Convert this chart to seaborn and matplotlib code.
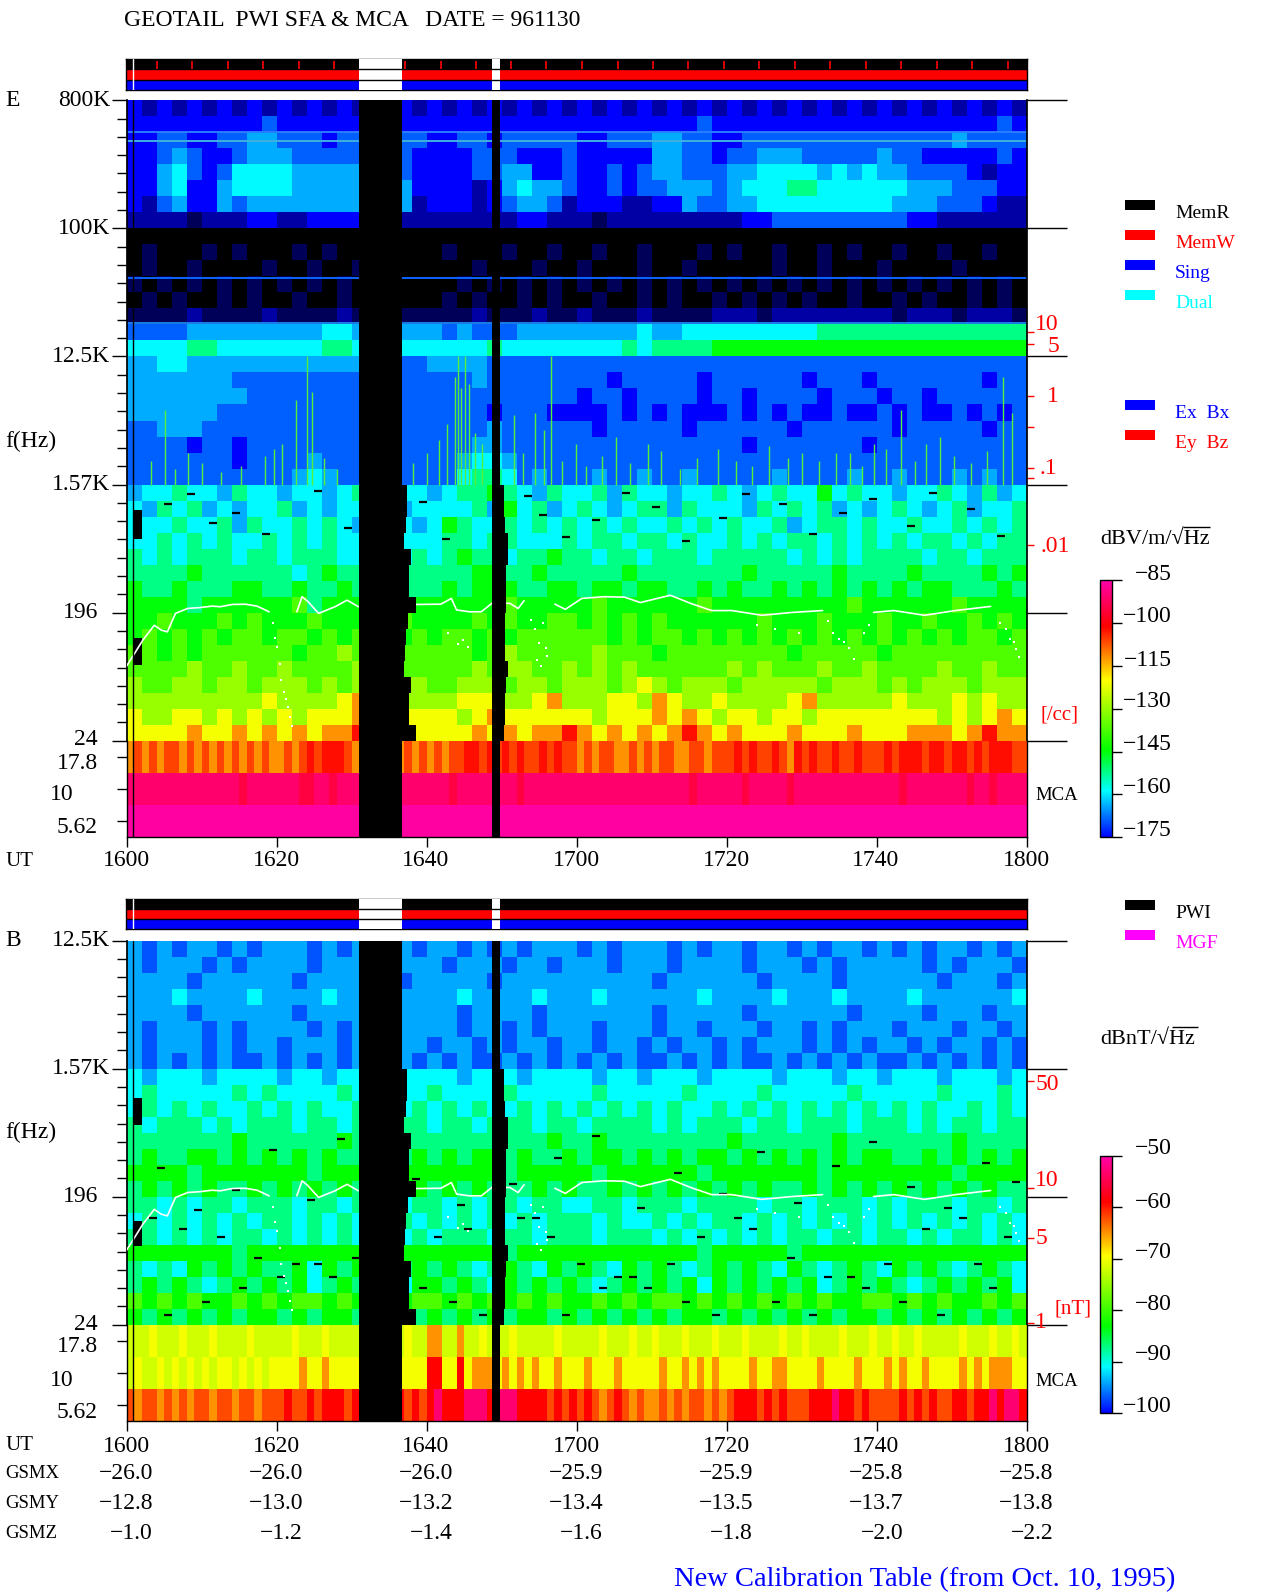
import numpy as np
import seaborn as sns
import matplotlib
matplotlib.use("Agg")
import matplotlib.pyplot as plt
from matplotlib.cm import ScalarMappable
from matplotlib.colors import LinearSegmentedColormap, Normalize

W, H = 1280, 1593

# level codes used in the spectrogram rows, as dB for each panel
E_LEVELS = {"0": -195, "1": -188, "2": -182, "3": -175, "4": -169, "5": -164, "6": -159, "7": -152, "8": -145,
            "9": -137, "a": -130, "g": -124, "b": -121, "c": -112, "h": -106, "d": -102, "j": -95, "e": -91, "f": -86}
B_LEVELS = {"0": -111, "1": -107, "2": -104, "3": -100, "4": -97, "5": -94, "6": -91, "7": -87, "8": -83,
            "9": -79, "a": -75, "g": -72, "b": -70, "c": -65, "h": -62, "d": -59, "j": -56, "e": -53, "f": -51}

E_ROWS = [
    "3232323232 3232323232 3232323232 3232323232 3232323232 3232323232",
    "3333333334 3333334433 3333333333 3333333343 3333333333 3333333343",
    "3344334455 4443444444 3344344444 3344455443 3444444444 4444454444",
    "3345433455 5444444443 3334443334 3333355443 4455544444 5443333343",
    "3356434666 6555555543 3334455334 3343455444 5566665656 5544443233",
    "3356335666 6555555553 3332356554 3343445554 5666776666 6655544433",
    "3245335455 5555555552 3332345542 3332233544 5566666666 6555444322",
    "2222122233 2233332222 2222223322 2122222222 2334444444 4433222222",
    "0000000000 0000000000 0000000000 0000000000 0000000000 0000000000",
    "0100010100 0101000000 0100010010 0100100010 1001001010 0100100100",
    "0100100001 0010010000 0001000100 1000100100 0001001000 1000010000",
    "1010101010 1010101000 0010101010 1010101010 1010101010 1010101010",
    "0101001010 0100101000 0101001010 0100101001 0101010010 0101001010",
    "1111211112 1111211111 1112111211 2111211112 2212222222 2122212221",
    "4444555555 5556655555 5454445555 5555655666 6666667777 7777777777",
    "6666776666 6667766666 6666766666 6667677778 8888888888 8888888888",
    "5566555555 5555555544 5555444444 4444444444 4444444444 4444444444",
    "5555555444 4444444444 4445444444 4434444434 4444434443 4444444344",
    "5555555544 4444444444 4444444444 3443444434 4344443444 3443444444",
    "5555554444 4444444444 4444344433 3343434333 4343433433 4343343434",
    "4455544444 4444444344 4444544444 4344444344 4444344444 4344444344",
    "4444344344 4444444344 4445544444 4444444444 4344444443 4444444444",
    "4444444344 4454444444 4456654444 4444444444 4444444444 4444444444",
    "4444444444 4565444444 4467764544 4544544544 4445444454 4544454544",
    "5667665766 5665676566 5677876576 6757665667 6567668676 6566765756",
    "6576756566 7565665756 6667586756 7656775766 6576767565 6765675667",
    "6667667576 6767657665 6876676767 6767667676 7667567767 6676676767",
    "6676767667 6767667666 6776776667 6776776766 7676776767 6767767677",
    "7676777677 6777667767 6787767787 7677677767 7777676767 7776776777",
    "7777877777 7678777777 7778877877 7778777777 7877777877 7787777878",
    "8778777887 7877878777 7878887788 7887887787 8778787878 7878877787",
    "8888788888 8978888888 8888898888 8988888898 8888888898 8888898888",
    "8898889898 8898889898 8889898899 8989898888 8898889888 9889889898",
    "8989898998 9989898989 8998989999 9989899898 9898989898 9898989989",
    "9989899999 9899a99999 99989a9999 9a99989999 9999899999 8999999999",
    "9999a99a99 a9999a9a99 999a9aa99a 9a9a999999 a9a999a99a 9999a99a99",
    "a99aa9aa9a aa9a9a9aaa 99aaa9aa9a aa9aba9aaa 9aaaaa9aaa 9a9aaa9aaa",
    "aaaaaaaaab aaaabcaaaa aabbbaabca aabbacbaab aaaabcaaaa abaaababaa",
    "baabbababa babbbcbabb bbabcbbbbb babbbcbcba bbabbabbbb bbbbababcb",
    "bbbbcbbcbc bcbccdcbbb bbbcbcbccd cbcbcbcdcb cbbbcbbbcb bbcccbcdcc",
]
B_ROWS = [
    "5454554545 5545455454 5545454555 4545554545 5455454554 5454554545",
    "5455545455 5545555455 5455545545 5545554555 5455545455 5554545554",
    "5555455555 5455555545 5555455555 5555545555 5545555455 5555455545",
    "5556555565 5556555655 5565555655 5655555565 5556555655 5565555556",
    "5555455555 5455555455 5545555455 5555545555 5455555545 5554555455",
    "5455545455 5545455455 5545545455 5455545545 5545545455 5455545545",
    "5455545455 4555454555 4554545545 5455454554 5455545454 5545455454",
    "5454545445 4545454454 5454454545 4545445454 5445454545 4454545454",
    "6566656666 5665666566 6656665666 6566566656 6665666566 5666566656",
    "6766666767 6666766666 7666676666 6766666766 6676666676 6666766676",
    "6767676676 7676676767 6767667676 7676767667 6767676767 6767667676",
    "7677767677 7677676777 6776777677 6777767677 7677677767 7767677677",
    "7777777877 7777877777 7777777787 7877777777 8777777877 7777787777",
    "7877887878 7878778778 7878878778 7887878788 7878787878 8778787878",
    "8888788888 8878888888 8888878888 8788888878 8888887888 8888878888",
    "7878787787 8787877878 7878777878 7787878787 8787787878 7878787877",
    "7767677677 7677677767 7676776776 6776777677 7767767776 7677767767",
    "6767676767 7676767676 7676767677 7676676767 7676767676 7676767676",
    "7767676776 7676767767 6777677677 7677767676 7676776776 7767677676",
    "8888888788 8888887888 8888878888 8888888878 8888788888 8888888888",
    "7676878787 7868786878 7876787687 8768787678 7876876787 6878767876",
    "7878767878 7867878768 8787687878 7678787868 7878786787 8767878786",
    "9898988989 8998989889 9898989898 8989899898 9898989889 9898988989",
    "8787878788 7878878787 8787878878 7878787887 8787878788 7878787878",
]
# MCA bands: 17.8, 10, 5.62 Hz, one code per minute
E_MCA = [
    "chchchhchc hchchchchc chchdhdddh chchchchch chchhddhdh dhdhhdhdhh chchhcchch chhcchhchh hdhdhhdhcd hdhhdhhdhh hdhdddhddh ddhdhdddhh",
    "eeeeeeeeee eeeeejeeee eeejjeejee eeeeeeeeee eeejeeeeee eejeeeeeee eeeeeeeeee eeeeejeeee eejeeeeeje eeeeeeeeee eeejeeeeee eejeejeeee",
    "ffffffffff ffffffffff ffffffffff ffffffffff ffffffffff ffffffffff ffffffffff ffffffffff ffffffffff ffffffffff ffffffffff ffffffffff",
]
B_MCA = [
    "gggbgggbgg gbggggbggg ggbgggbggg gbgggggbgg ccggcggbgg gbgggggbgg gggbgggbgg bgggbgggbg ggbggggbgg bggggbgggb ggbggbgggg gbgggbggbg",
    "gbggbgbgbg bgbbgbgbgb bbbcbbcbbb bbcbbcbbbb ddbbdbcccb cbcbcbbcbb bcbbbcbbbb bcbbcbcbcb bbbcbbccbb bbcbbbbcbb bcbcbbcbbb bcbcbcccbb",
    "hchhchchch hchhchhchh hdhhdhdddh ddhhdhdhdh dedddeeede eeddddhdhd hdhchdhchc chchchhchc hdddhdhdhh hdddeddhdh hhhdhdhdhh ddhddedeed",
]

# data gaps in minutes after 1600, and the lagging right edge over the SFA rows below 1.57 kHz
GAP_START = [31.0, 48.7]
GAP_END = [36.7, 49.8]
GAP1_EDGE = [37.43, 37.43, 37.27, 37.0, 37.98, 37.7, 37.7, 38.6, 37.54, 37.27, 37.1, 37.0, 37.98, 37.7, 37.65, 38.6]
GAP2_EDGE = [50.33, 50.33, 50.5, 50.87, 50.87, 50.6, 50.6, 50.6, 50.5, 50.45, 50.4, 50.87, 50.6, 50.5, 50.4, 50.33]
BLOCK_T = [0.9, 2.0]
E_BLOCK_ROWS = [(25.6, 27.4), (33.6, 35.3)]
B_BLOCK_ROWS = [(9.8, 11.5), (17.5, 19.1)]
THIN_LINE_T = 0.9

# white trace in both panels, solid stretches
TRACE_T = [0.0, 1.08, 2.17, 3.69, 4.62, 5.43, 6.52, 8.15, 9.79, 11.4, 12.5, 14.1, 15.8, 17.4, 19.0, np.nan,
           22.7, 23.4, 24.2, 25.6, 27.8, 29.4, 30.9, np.nan, 37.0, 38.6, 41.9, 43.3, 44.0,
           45.7, 47.3, 48.7, np.nan, 49.9, 51.1, 52.2, 53.0, np.nan, 57.1, 58.5, 60.7, 63.7, 66.4, 68.5,
           72.5, 75.2, 78.0, 80.7, 84.7, 88.8, 92.8, np.nan, 99.6, 102.3, 106.4, 110.5, 115.2]
TRACE_HZ = [82, 101, 125, 159, 147, 143, 193, 209, 212, 217, 215, 223, 224, 217, 198, np.nan,
            198, 253, 233, 193, 215, 239, 215, np.nan, 215, 223, 224, 246, 204,
            198, 198, 227, np.nan, 227, 227, 209, 237, np.nan, 224, 206, 246, 253, 251, 230,
            259, 227, 202, 202, 187, 196, 202, np.nan, 196, 202, 187, 202, 216]
# dotted stretches where the trace breaks up
DOT_T = [19.5, 19.8, 20.1, 20.4, 20.6, 21.0, 21.2, 21.5, 21.8, 22.1, 53.9, 54.4, 55.0, 55.5, 55.9, 54.7, 55.3, 56.1,
         93.5, 94.2, 95.0, 95.6, 96.3, 97.0, 98.3, 99.0, 116.4, 117.2, 117.8, 118.3, 118.6, 119.0,
         42.8, 44.2, 44.9, 45.5, 84.0, 86.5, 89.7]
DOT_HZ = [164, 130, 112, 85, 65, 54, 48, 42, 36, 31, 172, 150, 120, 164, 110, 90, 82, 96,
          170, 140, 128, 122, 110, 92, 141, 160, 165, 150, 128, 122, 108, 95,
          140, 118, 125, 112, 160, 150, 140]

# whistler-like spikes rising from 1.57 kHz in panel E
SPIKE_T = [5.16, 8.15, 20.7, 22.6, 24.0, 24.75, 43.8, 44.2, 44.6, 45.1, 45.7, 46.5, 51.7, 54.4, 56.6, 59.9, 65.3,
           69.5, 76.1, 78.9, 90, 94.6, 99.6, 103.3, 106.6, 116.9, 118,
           3.2, 6.4, 10.1, 12.6, 15.2, 18.4, 19.6, 26.3, 28.1, 38.2, 40.1, 41.6, 42.7, 47.4, 52.9, 55.6, 58.1, 61.2,
           63.4, 67.1, 71.2, 73.8, 81.2, 83.4, 85.7, 88.2, 92.3, 96.4, 98.1, 101.2, 105.1, 108.4, 110.3, 112.6, 114.7]
SPIKE_TOP = [5200, 2600, 3000, 6200, 12500, 7000, 9000, 12500, 7500, 12500, 8000, 3600, 4800, 5000, 12500, 3000, 3400,
             3000, 2400, 2800, 2600, 2600, 3000, 5200, 3000, 9000, 5000,
             2300, 2000, 2200, 1900, 2100, 2500, 2800, 2400, 2000, 2200, 2600, 3200, 4200, 3000, 2600, 3800, 2300, 2100,
             2500, 2200, 2700, 2000, 2300, 2100, 2900, 2400, 2300, 2600, 2100, 2800, 2300, 3400, 2500, 2200, 2700]

# narrow band lines in panel E (Hz)
E_LINES_HZ = [480000, 415000, 44700, 21600]
E_LINE_COLORS = ["#2b7dff", "#3fb0e0", "#0a66ff", "#1c7fe8"]

# dropouts seen as short black dashes
E_DASH_T = [5, 8, 11, 14, 18, 25, 29, 39, 42, 53, 55, 58, 62, 66, 70, 74, 79, 82, 87, 91, 95, 99, 104, 107, 112, 116]
E_DASH_ROW = [25.2, 24.6, 26.4, 25.8, 27.1, 24.4, 26.7, 25.1, 27.4, 24.7, 25.9, 27.3, 26.2, 24.5, 25.4, 27.5, 26.1,
              24.6, 25.2, 27.1, 25.8, 24.9, 26.6, 24.5, 25.5, 27.2]
B_DASH_T = [3, 7, 12, 17, 22, 27, 39, 43, 47, 52, 56, 60, 65, 69, 74, 78, 83, 88, 93, 98, 103, 108, 113, 117,
            5, 10, 15, 20, 25, 30, 41, 45, 54, 58, 63, 67, 72, 76, 81, 86, 91, 96, 101, 106, 111, 115,
            4, 9, 14, 19, 24, 28, 38, 44, 51, 57, 62, 68, 73, 79, 84, 89, 94, 99, 104, 109, 114, 118]
B_DASH_ROW = [17.3, 18.0, 18.5, 19.8, 20.2, 21.0, 21.7, 22.6, 23.4, 17.3, 18.5, 20.2, 21.0, 21.7, 22.6, 23.4, 18.0,
              19.8, 21.0, 21.7, 22.6, 23.4, 20.2, 18.5,
              23.4, 22.6, 21.7, 21.0, 20.2, 19.8, 18.5, 18.0, 17.3, 23.4, 21.7, 21.0, 20.2, 18.5, 17.3, 22.6, 23.4,
              21.0, 20.2, 18.0, 17.3, 21.7,
              14.2, 16.8, 15.6, 13.1, 16.2, 12.4, 14.9, 16.5, 15.2, 13.6, 12.2, 16.7, 14.5, 15.8, 13.2, 16.4, 14.1,
              12.6, 15.4, 16.7, 13.9, 15.1]

STATUS_TICKS = [4.1, 8.8, 13.5, 18.2, 23.0, 27.7, 37.1, 41.9, 46.6, 51.3, 56.0, 60.8, 65.5, 70.2, 74.9, 79.7,
                84.4, 89.1, 93.8, 98.6, 103.3, 108.0, 112.7, 117.5]
STATUS_COLORS = ["black", "red", "blue"]

UT_TICKS = [0, 20, 40, 60, 80, 100, 120]
UT_LABELS = ["1600", "1620", "1640", "1700", "1720", "1740", "1800"]
GSMX = ["−26.0", "−26.0", "−26.0", "−25.9", "−25.9", "−25.8", "−25.8"]
GSMY = ["−12.8", "−13.0", "−13.2", "−13.4", "−13.5", "−13.7", "−13.8"]
GSMZ = ["−1.0", "−1.2", "−1.4", "−1.6", "−1.8", "−2.0", "−2.2"]

E_FREQ_LABELS = ["800K", "100K", "12.5K", "1.57K", "196", "24"]
B_FREQ_LABELS = ["12.5K", "1.57K", "196", "24"]
MCA_LABELS = ["17.8", "10", "5.62"]

E_CBAR_TICKS = [-85, -100, -115, -130, -145, -160, -175]
B_CBAR_TICKS = [-50, -60, -70, -80, -90, -100]

# density and field scales on the right, in spectrogram rows
E_RED_ROWS = [14.5, 15.23, 18.48, 20.42, 22.98, 23.6, 27.8]
B_RED_ROWS = [8.77, 15.45, 18.58, 23.9]

CMAP_STOPS = [(-195, "#000000"), (-175, "#0000ff"), (-158.7, "#00ffff"), (-144.6, "#00ff00"), (-120, "#ffff00"),
              (-101, "#ff0000"), (-85, "#ff00aa")]

sns.set_theme(style="white")
plt.rcParams["font.family"] = ["Liberation Serif", "DejaVu Serif"]

cmap = LinearSegmentedColormap.from_list("geotail", [((v + 195) / 110, c) for v, c in CMAP_STOPS], N=512)
fig = plt.figure(figsize=(W / 100, H / 100), dpi=100, facecolor="white")


def px_axes(x0, y0, x1, y1):
    return fig.add_axes([x0 / W, 1 - y1 / H, (x1 - x0) / W, (y1 - y0) / H])


def put(x, y, s, color="black", ha="left", size=17):
    fig.text(x / W, 1 - (y + 2) / H, s, color=color, ha=ha, va="center", fontsize=size)


def decode(rows, levels):
    return np.array([[levels[c] for c in row.replace(" ", "")] for row in rows], dtype=float)


def hz_to_row(hz, top_hz):
    return 8 * np.log(top_hz / np.asarray(hz, dtype=float)) / np.log(8)


def show_spines(ax):
    for side in ["left", "right", "top", "bottom"]:
        ax.spines[side].set_visible(True)
        ax.spines[side].set_color("black")
        ax.spines[side].set_linewidth(1)


def draw_status(y0, y1, ticks):
    ax = px_axes(125.5, y0, 1026.6, y1)
    for i, color in enumerate(STATUS_COLORS):
        ax.barh(i + 0.5, 120.1, left=-0.1, height=1, color=color, linewidth=0)
    for start, end in zip(GAP_START, GAP_END):
        ax.axvspan(start, end, color="white", lw=0, zorder=3)
    ax.hlines([1, 2], -0.1, 120, color="black", lw=1, zorder=4)
    ax.vlines(ticks, 0.15, 0.95, color="red", lw=1.2, zorder=4)
    ax.axvline(THIN_LINE_T, color="white", lw=1, zorder=5)
    ax.set_xlim(-0.1, 120)
    ax.set_ylim(3, 0)
    ax.set_xticks([])
    ax.set_yticks([])
    show_spines(ax)


def draw_sfa(y0, y1, rows, levels, top_hz, vmin, vmax, gap_first_row, block_rows, dash_t, dash_row):
    ax = px_axes(126.6, y0, 1026.6, y1)
    data = decode(rows, levels)
    sns.heatmap(data, ax=ax, cmap=cmap, vmin=vmin, vmax=vmax, cbar=False, xticklabels=False, yticklabels=False)
    n_rows = data.shape[0]

    ax.hlines(dash_row, np.array(dash_t) / 2, np.array(dash_t) / 2 + 0.55, color="black", lw=1.6, zorder=3)
    ax.plot(np.array(TRACE_T) / 2, hz_to_row(TRACE_HZ, top_hz), color="white", lw=1.2, zorder=4)
    ax.scatter(np.array(DOT_T) / 2, hz_to_row(DOT_HZ, top_hz), s=3, color="white", marker="s", lw=0, zorder=4)

    # gaps with the lagging edge
    for start, end, edge in zip(GAP_START, GAP_END, [GAP1_EDGE, GAP2_EDGE]):
        ax.axvspan(start / 2, end / 2, color="black", lw=0, zorder=5)
        sweep_rows = np.arange(gap_first_row, gap_first_row + len(edge)) + 0.5
        ax.barh(sweep_rows, (np.array(edge) - start) / 2, left=start / 2, height=1, color="black", lw=0, zorder=5)
    for r0, r1 in block_rows:
        ax.fill_between([BLOCK_T[0] / 2, BLOCK_T[1] / 2], r0, r1, color="black", lw=0, zorder=3)
    ax.axvline(THIN_LINE_T / 2, color="black", lw=1, zorder=5)

    major = np.arange(0, n_rows + 1, 8)
    minor = [m + 8 * k / 7 for m in major[:-1] for k in range(1, 7)]
    ax.set_yticks(major)
    ax.set_yticks(minor, minor=True)
    ax.set_yticklabels([])
    ax.tick_params(axis="y", which="major", left=True, length=11, width=1, color="black")
    ax.tick_params(axis="y", which="minor", left=True, length=7, width=1, color="black")
    ax.hlines(major, 1.0, 1.0445, transform=ax.get_yaxis_transform(), color="black", lw=1, clip_on=False)
    ax.set_xticks([])
    ax.spines["left"].set_visible(True)
    ax.spines["left"].set_color("black")
    ax.spines["right"].set_visible(True)
    ax.spines["right"].set_color("black")
    return ax


def draw_mca(y0, y1, rows, levels, vmin, vmax):
    ax = px_axes(126.6, y0, 1026.6, y1)
    data = decode(rows, levels)
    sns.heatmap(data, ax=ax, cmap=cmap, vmin=vmin, vmax=vmax, cbar=False, xticklabels=False, yticklabels=False)
    for start, end in zip(GAP_START, GAP_END):
        ax.axvspan(start, end, color="black", lw=0, zorder=5)
    ax.axvline(THIN_LINE_T, color="black", lw=1, zorder=5)
    ax.set_xticks(UT_TICKS)
    ax.set_xticklabels([])
    ax.set_yticks([0.5, 1.5, 2.5])
    ax.set_yticklabels([])
    ax.tick_params(axis="x", bottom=True, length=7, width=1, color="black")
    ax.tick_params(axis="y", left=True, length=7, width=1, color="black")
    show_spines(ax)
    ax.spines["top"].set_visible(False)
    return ax


def draw_cbar(y0, y1, vmin, vmax, low, high, ticks):
    cax = px_axes(1100.3, y0, 1111.7, y1)
    sm = ScalarMappable(norm=Normalize(vmin, vmax), cmap=cmap)
    cb = fig.colorbar(sm, cax=cax)
    cb.set_ticks(ticks)
    cb.ax.set_ylim(low, high)
    cb.ax.tick_params(axis="y", right=True, length=7, width=1, color="black", labelright=False)
    cb.outline.set_edgecolor("black")
    cb.outline.set_linewidth(1)


# panel E
draw_status(59.3, 89.7, STATUS_TICKS)
ax_e = draw_sfa(100.3, 740.7, E_ROWS, E_LEVELS, 800000, -195, -85, 24, E_BLOCK_ROWS, E_DASH_T, E_DASH_ROW)
ax_e.hlines(hz_to_row(E_LINES_HZ, 800000), 0, 60, colors=E_LINE_COLORS, lw=1.4, zorder=2)
spike_x = np.array(SPIKE_T) / 2
ax_e.vlines(spike_x, hz_to_row(SPIKE_TOP, 800000), 24, color="#55f03c", lw=1.0, zorder=2)
ax_e.hlines(E_RED_ROWS, 1.0, 1.008, transform=ax_e.get_yaxis_transform(), color="red", lw=1, clip_on=False)
draw_mca(740.7, 837.3, E_MCA, E_LEVELS, -195, -85)
draw_cbar(580.3, 837.3, -195, -85, -175, -85, E_CBAR_TICKS)

# panel B
draw_status(899.3, 929.3, [])
ax_b = draw_sfa(940.7, 1324.7, B_ROWS, B_LEVELS, 12500, -111.1, -50, 8, B_BLOCK_ROWS, B_DASH_T, B_DASH_ROW)
ax_b.hlines(B_RED_ROWS, 1.0, 1.008, transform=ax_b.get_yaxis_transform(), color="red", lw=1, clip_on=False)
draw_mca(1324.7, 1421, B_MCA, B_LEVELS, -111.1, -50)
draw_cbar(1155.8, 1413.3, -111.1, -50, -100, -50, B_CBAR_TICKS)

# title and frequency labels
put(124.5, 19, "GEOTAIL  PWI SFA & MCA   DATE = 961130", size=17)
put(5, 98, "E")
put(5, 938, "B")
put(5, 439, "f(Hz)")
put(5, 1130, "f(Hz)")
for label, y, right in zip(E_FREQ_LABELS, [98, 226, 354, 482, 610, 738], [110, 110, 110, 110, 98, 98]):
    put(right, y, label, ha="right")
for label, y, right in zip(MCA_LABELS, [761.7, 793, 825.7], [98, 73.5, 98]):
    put(right, y, label, ha="right")
for label, y, right in zip(B_FREQ_LABELS, [938, 1067, 1195, 1322.7], [110, 110, 98, 98]):
    put(right, y, label, ha="right")
for label, y, right in zip(MCA_LABELS, [1345, 1378, 1410], [98, 73.5, 98]):
    put(right, y, label, ha="right")

# UT and orbit rows
put(5, 859, "UT", size=15)
put(5, 1444, "UT", size=15)
put(5, 1471.7, "GSMX", size=13.5)
put(5, 1501.7, "GSMY", size=13.5)
put(5, 1531.7, "GSMZ", size=13.5)
for i, label in enumerate(UT_LABELS):
    put(126 + 150 * i, 859, label, ha="center")
    put(126 + 150 * i, 1444, label, ha="center")
for name_row, y in [(GSMX, 1471.7), (GSMY, 1501.7), (GSMZ, 1531.7)]:
    for i, label in enumerate(name_row):
        put(153 + 150 * i, y, label, ha="right")

# red scale labels
for label, x, y in [("10", 1047, 322), ("5", 1053, 345), ("1", 1053, 395), (".1", 1048, 467), (".01", 1055, 545)]:
    put(x, y, label, color="red", ha="center")
put(1059, 713, "[/cc]", color="red", ha="center", size=15)
for label, x, y in [("50", 1047, 1082), ("10", 1047, 1179), ("5", 1041, 1236), ("1", 1041, 1320)]:
    put(x, y, label, color="red", ha="center")
put(1073, 1307, "[nT]", color="red", ha="center", size=15)
put(1057, 793, "MCA", ha="center", size=13.5)
put(1057, 1380, "MCA", ha="center", size=13.5)

# legends
LEGEND_NAMES = ["MemR", "MemW", "Sing", "Dual", "Ex  Bx", "Ey  Bz", "PWI", "MGF"]
LEGEND_COLORS = ["black", "red", "blue", "cyan", "blue", "red", "black", "magenta"]
LEGEND_Y = [205, 235, 265, 295, 405, 435, 905, 935]
ax_leg = px_axes(0, 0, W, H)
ax_leg.set_xlim(0, W)
ax_leg.set_ylim(H, 0)
ax_leg.axis("off")
ax_leg.patch.set_alpha(0)
ax_leg.barh(LEGEND_Y, 30, left=1125, height=10, color=LEGEND_COLORS, lw=0)
# the bar over Hz in the unit labels
ax_leg.hlines([527, 1027], [1183, 1172], [1210, 1198], color="black", lw=1)
for name, color, y in zip(LEGEND_NAMES, LEGEND_COLORS, LEGEND_Y):
    put(1175, y + 6.7, name, color=color, size=14)

# colour bar units and tick labels
put(1100, 538, "dBV/m/√Hz", size=16)
put(1100, 1037.5, "dBnT/√Hz", size=16)
for v, y in zip(E_CBAR_TICKS, [572.7, 614, 658, 700, 742, 785.7, 828]):
    put(1171.7, y, str(v).replace("-", "−"), ha="right")
for v, y in zip(B_CBAR_TICKS, [1147, 1200, 1250, 1302, 1352.6, 1404]):
    put(1171.7, y, str(v).replace("-", "−"), ha="right")

put(1175, 1578, "New Calibration Table (from Oct. 10, 1995)", color="blue", ha="right", size=20.5)

fig.savefig("out.png", dpi=100)
